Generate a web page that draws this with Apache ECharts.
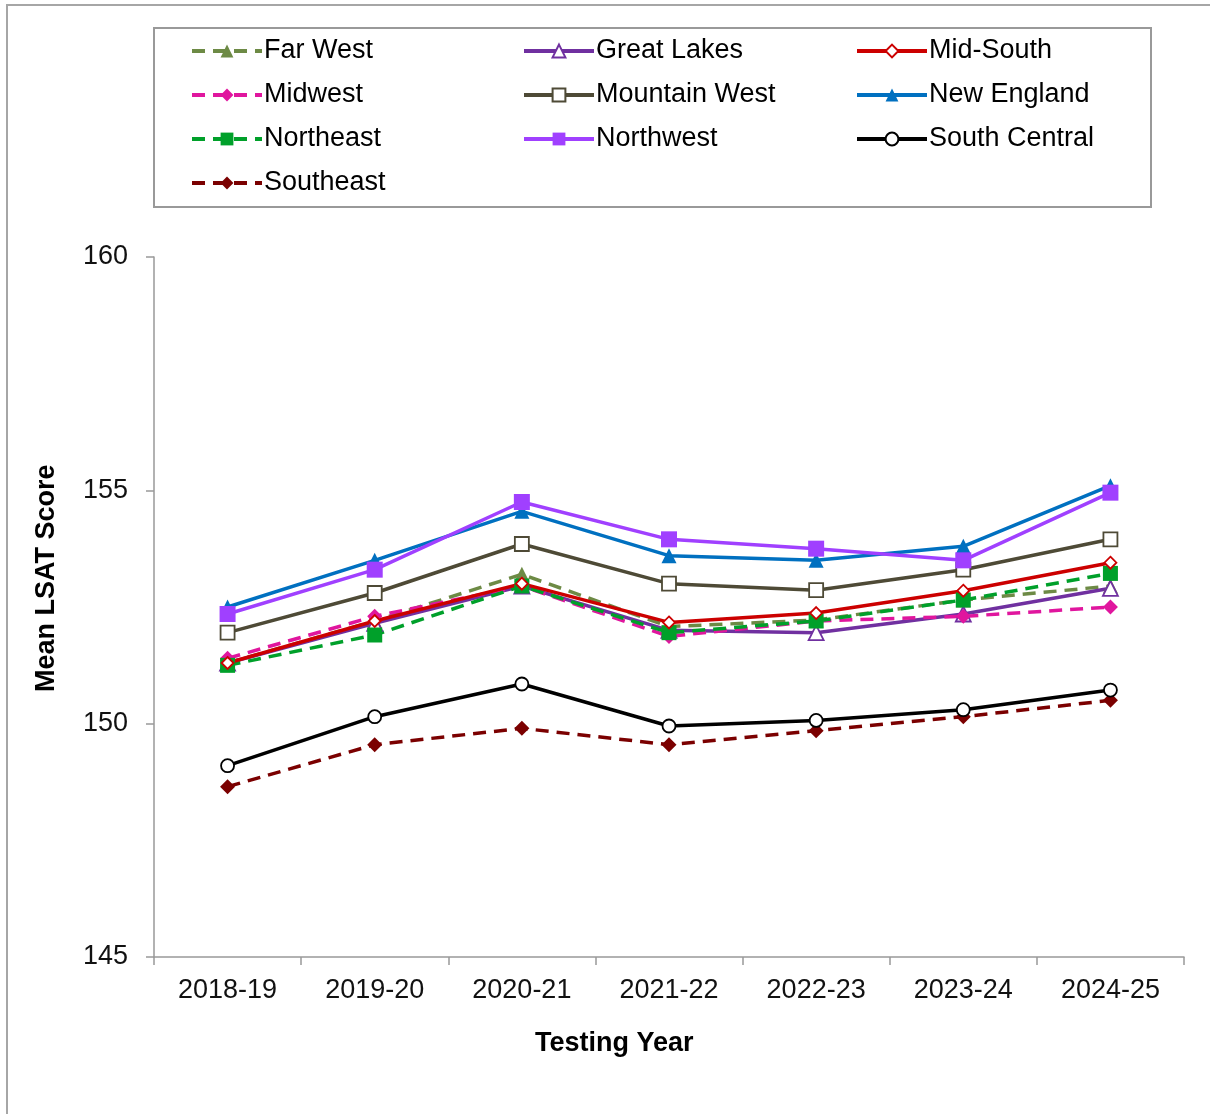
<!DOCTYPE html>
<html>
<head>
<meta charset="utf-8">
<script src="https://cdn.jsdelivr.net/npm/echarts@6/dist/echarts.min.js"></script>
<style>
  html, body { margin: 0; padding: 0; background: #fff; }
  #main { width: 1210px; height: 1114px; }
</style>
</head>
<body>
<div id="main"></div>
<script>
// testing years (x categories)
var years = ['2018-19', '2019-20', '2020-21', '2021-22', '2022-23', '2023-24', '2024-25'];

// mean LSAT score per region
var farWest      = [151.3, 152.2, 153.2, 152.08, 152.22, 152.65, 152.95];
var greatLakes   = [151.3, 152.15, 152.95, 152.0, 151.95, 152.35, 152.9];
var midSouth     = [151.3, 152.2, 153.0, 152.17, 152.37, 152.85, 153.45];
var midwest      = [151.4, 152.3, 152.95, 151.87, 152.2, 152.3, 152.5];
var mountainWest = [151.95, 152.8, 153.85, 153.0, 152.86, 153.3, 153.95];
var newEngland   = [152.5, 153.5, 154.55, 153.6, 153.5, 153.8, 155.1];
var northeast    = [151.25, 151.9, 152.95, 151.95, 152.2, 152.65, 153.22];
var northwest    = [152.35, 153.3, 154.75, 153.95, 153.75, 153.5, 154.95];
var southCentral = [149.1, 150.15, 150.85, 149.95, 150.07, 150.3, 150.72];
var southeast    = [148.65, 149.55, 149.9, 149.55, 149.85, 150.15, 150.5];

var yTicks = [145, 150, 155, 160];

var dash = [13, 8];
var FONT = 'Liberation Sans, Arial, sans-serif';

function mk(name, data, color, symbol, size, hollow, dashed) {
  return {
    name: name,
    type: 'line',
    data: data,
    symbol: symbol,
    symbolSize: size,
    showAllSymbol: true,
    lineStyle: { color: color, width: 3.5, type: dashed ? dash : 'solid' },
    itemStyle: { color: hollow ? '#fff' : color, borderColor: color, borderWidth: hollow ? 1.8 : 0 },
    emphasis: { disabled: true },
    z: 2
  };
}

var series = [
  mk('Southeast', southeast, '#7b0000', 'diamond', 15, false, true),
  mk('South Central', southCentral, '#000000', 'circle', 13, true, false),
  mk('Far West', farWest, '#6d8a45', 'triangle', 15, false, true),
  mk('Great Lakes', greatLakes, '#7030a0', 'triangle', 15, true, false),
  mk('Midwest', midwest, '#e0169e', 'diamond', 15, false, true),
  mk('Northeast', northeast, '#00a02a', 'rect', 15, false, true),
  mk('Mid-South', midSouth, '#cc0000', 'diamond', 12, true, false),
  mk('Mountain West', mountainWest, '#4e4a36', 'rect', 14, true, false),
  mk('New England', newEngland, '#0070c0', 'triangle', 15, false, false),
  mk('Northwest', northwest, '#a040ff', 'rect', 16, false, false)
];

function legendCol(left, names) {
  return {
    orient: 'vertical',
    left: left,
    top: 36,
    data: names,
    itemWidth: 70,
    itemHeight: 16,
    itemGap: 14,
    padding: 0,
    selectedMode: false,
    lineStyle: { width: 4 },
    textStyle: { fontFamily: FONT, fontSize: 27, color: '#000', lineHeight: 30, padding: [0, 0, 0, -3] }
  };
}

var chartDom = document.getElementById('main');
var myChart = echarts.init(chartDom, null, { renderer: 'canvas' });

var option = {
  animation: false,
  backgroundColor: '#fff',
  legend: [
    legendCol(190, ['Far West', 'Midwest', 'Northeast', 'Southeast']),
    legendCol(522, ['Great Lakes', 'Mountain West', 'Northwest']),
    legendCol(855, ['Mid-South', 'New England', 'South Central'])
  ],
  grid: { left: 154, right: 26, top: 257, bottom: 157 },
  xAxis: {
    type: 'category',
    data: years,
    boundaryGap: true,
    axisLine: { lineStyle: { color: '#999', width: 1.5 } },
    axisTick: { show: true, length: 8, interval: 0, lineStyle: { color: '#999', width: 1.5 } },
    axisLabel: { margin: 20, fontFamily: FONT, fontSize: 27, color: '#111', interval: 0 }
  },
  yAxis: {
    type: 'value',
    min: yTicks[0],
    max: yTicks[yTicks.length - 1],
    interval: 5,
    splitLine: { show: false },
    axisLine: { show: true, lineStyle: { color: '#999', width: 1.5 } },
    axisTick: { show: true, length: 8, lineStyle: { color: '#999', width: 1.5 } },
    axisLabel: { margin: 26, fontFamily: FONT, fontSize: 27, color: '#111' }
  },
  graphic: [
    { type: 'rect', shape: { x: 7, y: 5, width: 1260, height: 1160 }, style: { fill: 'none', stroke: '#a6a6a6', lineWidth: 2 }, silent: true, z: -1 },
    { type: 'rect', shape: { x: 154, y: 28, width: 997, height: 179 }, style: { fill: 'none', stroke: '#999', lineWidth: 2 }, silent: true },
    { type: 'text', left: 535, top: 1030, style: { text: 'Testing Year', font: 'bold 27px ' + FONT, fill: '#000' } },
    { type: 'text', x: 33, y: 692, rotation: Math.PI / 2, style: { text: 'Mean LSAT Score', font: 'bold 27px ' + FONT, fill: '#000' } }
  ],
  series: series
};

myChart.setOption(option);
</script>
</body>
</html>
